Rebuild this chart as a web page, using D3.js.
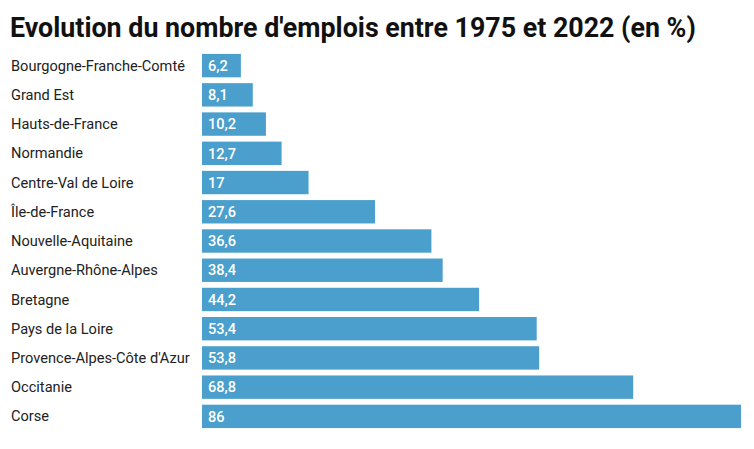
<!DOCTYPE html>
<html lang='fr'>
  <head>
    <meta charset='utf-8'>
    <title>Evolution du nombre d'emplois</title>
    <script src="https://d3js.org/d3.v7.min.js" charset='utf-8'></script>
    <style type="text/css">
      body { margin: 0; background: #fff; }
      svg { display: block; }
      text { font-family: Roboto, sans-serif; }
      .title { font-size: 26.8px; font-weight: bold; fill: #111; }
      .label { font-size: 14.6px; fill: #222; }
      .value { font-size: 14.6px; font-weight: 500; fill: #fff; }
      rect.bar { fill: #4a9fcc; }
    </style>
  </head>
  <body>
    <script type="text/javascript">
      var regions = ['Bourgogne-Franche-Comté', 'Grand Est', 'Hauts-de-France', 'Normandie',
        'Centre-Val de Loire', 'Île-de-France', 'Nouvelle-Aquitaine', 'Auvergne-Rhône-Alpes',
        'Bretagne', 'Pays de la Loire', "Provence-Alpes-Côte d'Azur", 'Occitanie', 'Corse'];
      var values = [6.2, 8.1, 10.2, 12.7, 17, 27.6, 36.6, 38.4, 44.2, 53.4, 53.8, 68.8, 86];

      var width = 754, height = 449;
      var svg = d3.select('body').append('svg')
        .attr('width', width)
        .attr('height', height);

      svg.append('text')
        .attr('class', 'title')
        .attr('x', 10)
        .attr('y', 37)
        .text("Evolution du nombre d'emplois entre 1975 et 2022 (en %)");

      // scales
      var x = d3.scaleLinear().domain([0, 86]).range([202, 741]);
      var y = d3.scaleBand().domain(regions).range([51, 431]).paddingInner(0.2).paddingOuter(0.1);

      var fmt = function(v) { return String(v).replace('.', ','); };

      var row = svg.selectAll('g.row')
        .data(regions)
        .enter().append('g')
        .attr('class', 'row');

      row.append('rect')
        .attr('class', 'bar')
        .attr('x', x(0))
        .attr('y', function(d) { return y(d); })
        .attr('width', function(d, i) { return x(values[i]) - x(0); })
        .attr('height', y.bandwidth());

      row.append('text')
        .attr('class', 'label')
        .attr('x', 11)
        .attr('y', function(d) { return y(d) + y.bandwidth() / 2; })
        .attr('dy', '0.35em')
        .text(function(d) { return d; });

      row.append('text')
        .attr('class', 'value')
        .attr('x', x(0) + 6)
        .attr('y', function(d) { return y(d) + y.bandwidth() / 2; })
        .attr('dy', '0.36em')
        .text(function(d, i) { return fmt(values[i]); });
    </script>
  </body>
</html>
